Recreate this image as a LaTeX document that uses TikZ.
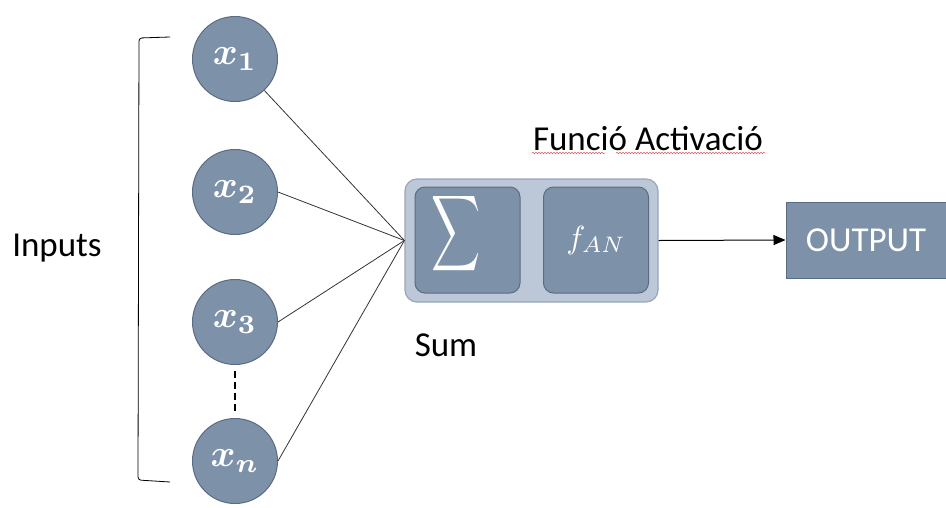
\documentclass[tikz,border=0pt]{standalone}
\usepackage{graphicx}
\usepackage{fontspec}
\setmainfont{Carlito}
\usetikzlibrary{arrows.meta,decorations.pathmorphing,calc}
\definecolor{nodefill}{RGB}{125,145,169}
\definecolor{nodeedge}{RGB}{90,108,132}
\definecolor{outerfill}{RGB}{188,200,215}
\definecolor{outeredge}{RGB}{152,166,184}
\definecolor{spellred}{RGB}{215,90,90}
\newcommand{\bigmath}[2]{\scalebox{#1}{\boldmath$#2$}}
\newcommand{\plainmath}[2]{\scalebox{#1}{$#2$}}
\tikzset{
  inputnode/.style={circle, fill=nodefill, draw=nodeedge, line width=1pt,
    minimum size=85pt, inner sep=0pt, text=white},
  innerbox/.style={rectangle, rounded corners=10pt, fill=nodefill, draw=nodeedge,
    line width=1pt, minimum width=105pt, minimum height=106pt, inner sep=0pt,
    text=white},
  outerbox/.style={rectangle, rounded corners=12pt, fill=outerfill, draw=outeredge,
    line width=1.2pt, minimum width=253pt, minimum height=123pt, inner sep=0pt},
  outbox/.style={rectangle, fill=nodefill, draw=nodeedge, line width=1pt,
    minimum width=160pt, minimum height=76pt, inner sep=0pt, text=white,
    font=\fontsize{35}{35}\selectfont},
  label/.style={font=\fontsize{35}{40}\selectfont, inner sep=0pt},
  link/.style={draw=black!80, line width=0.8pt},
  wavy/.style={draw=spellred, line width=0.5pt,
    decorate, decoration={snake, amplitude=0.8pt, segment length=3pt}}
}
\begin{document}
\begin{tikzpicture}[x=1pt, y=-1pt]
  \useasboundingbox (0,0) rectangle (946,507);

  % input neurons
  \node[inputnode] (x1) at (235,59)  {\bigmath{3.8}{x_1}};
  \node[inputnode] (x2) at (235,192) {\bigmath{3.8}{x_2}};
  \node[inputnode] (x3) at (235,322) {\bigmath{3.8}{x_3}};
  \node[inputnode] (xn) at (235,461) {\bigmath{3.8}{x_n}};
  \draw[line width=2.2pt, dash pattern=on 7pt off 4pt]
    ($(x3.south)+(0,6)$) -- ($(xn.north)+(0,-6)$);

  % bracket grouping the inputs
  \coordinate (bt) at (170,37);
  \coordinate (bb) at (170,482);
  \draw[line width=0.8pt, rounded corners=3pt] (bt) -- (139,38) -- (138,480) -- (bb);
  \node[label] (inputs) at (57,248) {Inputs};

  % summation and activation unit
  \node[outerbox] (unit) at (531.5,240.5) {};
  \node[innerbox] (sum) at (467.5,240) {};
  \node[text=white] (sigma) at (456,234) {\scalebox{3.4}[5.3]{$\displaystyle\sum$}};
  \node[innerbox] (act) at (596,240) {\plainmath{3.2}{f_{AN}}};

  \node[label] (funclab) at (648,139) {Funció Activació};
  \node[label] (sumlab) at (446,345) {Sum};
  \draw[wavy] (532,153) -- (605,153);
  \draw[wavy] (616,153) -- (765,153);

  % output
  \node[outbox] (out) at (866,240) {OUTPUT};

  % connectors
  \draw[link] (x1) -- (unit.west);
  \draw[link] (x2.east) -- (unit.west);
  \draw[link] (x3.east) -- (unit.west);
  \draw[link] (xn.east) -- (unit.west);
  \draw[line width=1pt, -{Triangle[length=12pt, width=10pt]}] (unit.east) -- (out.west);
\end{tikzpicture}
\end{document}
